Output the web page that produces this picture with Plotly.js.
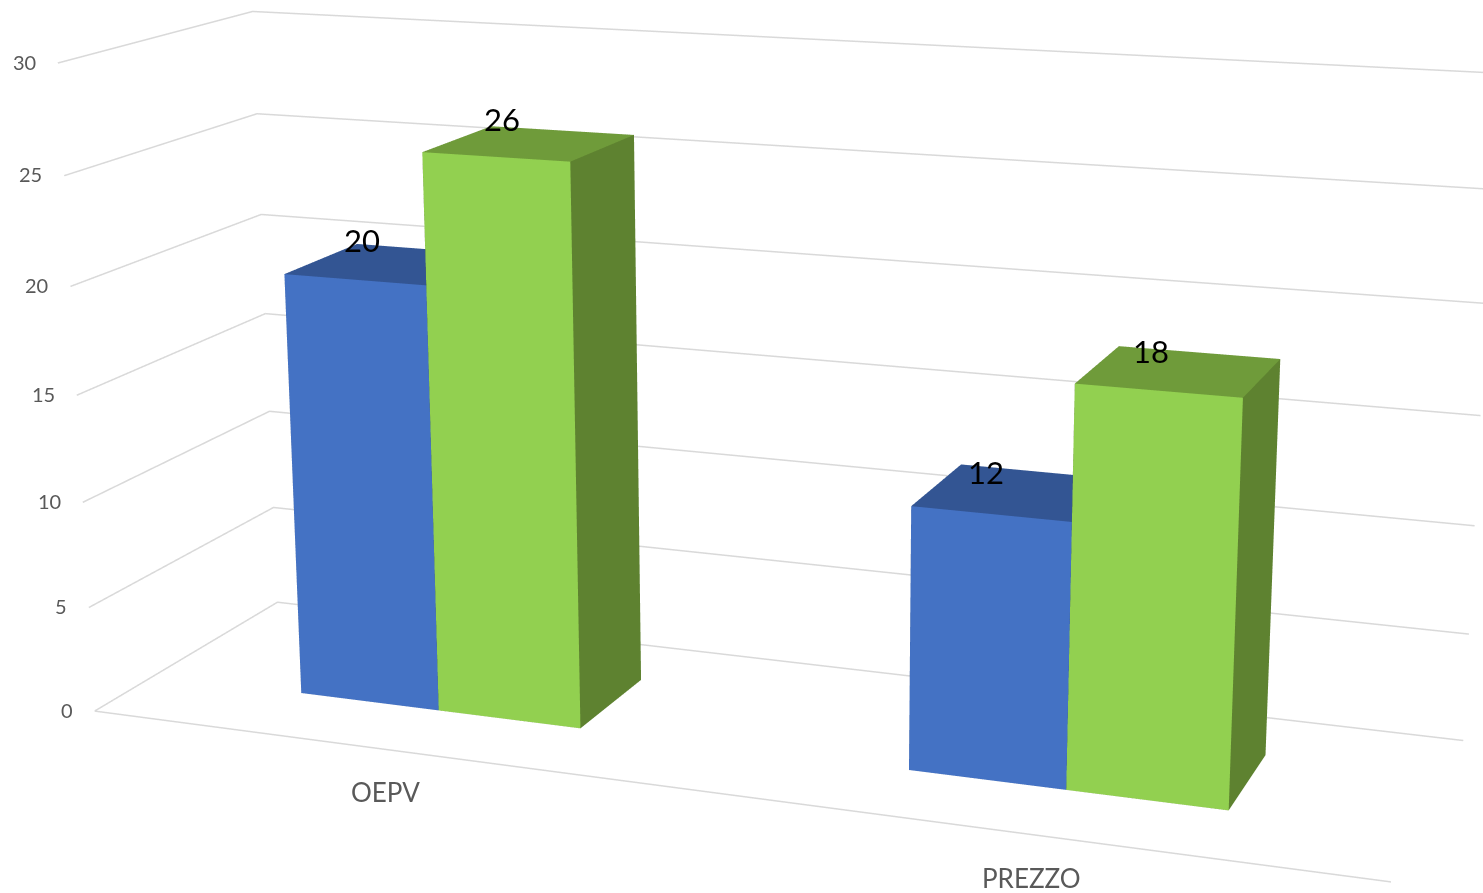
<!DOCTYPE html>
<html>
<head>
<meta charset="utf-8">
<script src="https://cdn.plot.ly/plotly-3.0.1.min.js"></script>
<style>
html,body{margin:0;padding:0;width:1483px;height:893px;overflow:hidden;background:#fff}
#chart{position:absolute;left:-667.5px;top:-964px;width:2820px;height:2820px}
</style>
</head>
<body>
<div id="chart"></div>
<script>
var categories = ['OEPV', 'PREZZO'];
var seriesBlue = [20, 12];
var seriesGreen = [26, 18];
var valueTicks = [0, 5, 10, 15, 20, 25, 30];

var BAR_W = 0.238, Y0 = 0.314, Y1 = 0.7225;
var BLUE = {front:'#4472C4', top:'#335593', side:'#2F5597'};
var GREEN = {front:'#92D050', top:'#6F9B3A', side:'#5E8230'};
var GRID = '#D9D9D9';

function bar(xa, xb, val, c) {
  return {
    type:'mesh3d',
    x:[xa,xb,xb,xa,xa,xb,xb,xa],
    y:[Y0,Y0,Y1,Y1,Y0,Y0,Y1,Y1],
    z:[0,0,0,0,val,val,val,val],
    i:[0,0, 4,4, 1,1, 0,0, 3,3, 0,0],
    j:[1,5, 5,6, 2,6, 3,7, 2,6, 1,2],
    k:[5,4, 6,7, 6,5, 7,4, 6,7, 2,3],
    facecolor:[c.front,c.front,c.top,c.top,c.side,c.side,c.side,c.side,c.side,c.side,c.side,c.side],
    flatshading:true,
    lighting:{ambient:1,diffuse:0,specular:0,roughness:1,fresnel:0},
    hoverinfo:'skip',showscale:false
  };
}

var traces = [];
var XL = -0.5, XR = 1.5;
valueTicks.forEach(function(t){
  traces.push({type:'scatter3d',mode:'lines',x:[XL,XL,XR],y:[0,1,1],z:[t,t,t],
    line:{color:GRID,width:3},hoverinfo:'skip',showlegend:false});
});
traces.push({type:'scatter3d',mode:'lines',x:[XL,XR],y:[0,0],z:[0,0],
  line:{color:GRID,width:3},hoverinfo:'skip',showlegend:false});

categories.forEach(function(c,i){
  traces.push(bar(i-0.002-BAR_W,i-0.002,seriesBlue[i],BLUE));
  traces.push(bar(i-0.002,i-0.002+BAR_W,seriesGreen[i],GREEN));
});

var anns = [];
valueTicks.forEach(function(t){
  anns.push({x:XL,y:0,z:t,text:String(t),showarrow:false,xanchor:'right',yanchor:'middle',
    xshift:-20,yshift:1.5,font:{family:'Lato',size:20,color:'#595959'}});
});
categories.forEach(function(c,i){
  anns.push({x:i,y:0,z:0,text:c,showarrow:false,xanchor:'center',yanchor:'middle',
    xshift:0,yshift:-43,font:{family:'Lato',size:26,color:'#595959'}});
  [[seriesBlue,-BAR_W/2,-29],[seriesGreen,BAR_W/2,-28]].forEach(function(s){
    anns.push({x:i-0.002+s[1],y:(Y0+Y1)/2,z:s[0][i],text:String(s[0][i]),showarrow:false,
      xanchor:'center',yanchor:'middle',xshift:s[2],yshift:i===0?24:20,
      font:{family:'Lato',size:31,color:'#000000'}});
  });
});

var hiddenAxis = function(r){return {range:r,autorange:false,visible:false,showgrid:false,zeroline:false,
  showbackground:false,showspikes:false,showticklabels:false,showline:false,title:{text:''}};};

var layout = {
  width:2820,height:2820,margin:{l:0,r:0,t:0,b:0,pad:0},
  paper_bgcolor:'#ffffff',showlegend:false,
  scene:{
    domain:{x:[0,1],y:[0,1]},
    xaxis:hiddenAxis([XL,XR]),yaxis:hiddenAxis([0,1]),zaxis:hiddenAxis([0,30]),
    aspectmode:'manual',aspectratio:{x:2,y:0.5895,z:1.005},
    camera:{eye:{x:1.7068,y:-4.5809,z:1.2478},center:{x:-0.027,y:-0.033,z:-0.0566},
      up:{x:0.0043,y:0.0016,z:1},projection:{type:'perspective'}},
    bgcolor:'#ffffff',annotations:anns,dragmode:false
  }
};
Plotly.newPlot('chart',traces,layout,{displayModeBar:false,plotGlPixelRatio:2,scrollZoom:false});
</script>
</body>
</html>
